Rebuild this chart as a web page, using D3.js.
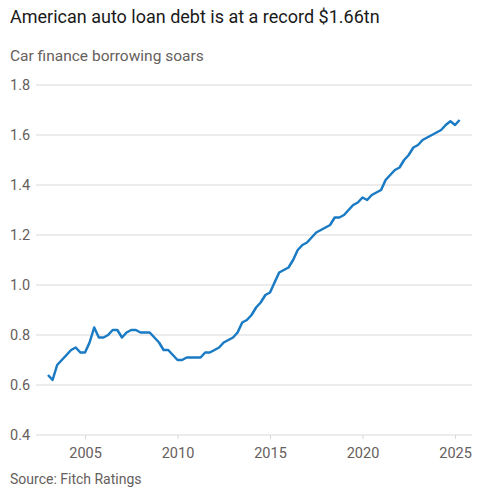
<!DOCTYPE html>
<html>
<head>
<meta charset="utf-8">
<script src="https://cdn.jsdelivr.net/npm/d3@7"></script>
<style>
  body { margin: 0; background: #fff; }
  svg text { font-family: Roboto, "Noto Sans", sans-serif; }
</style>
</head>
<body>
<div id="chart"></div>
<script>
// Quarterly US auto loan debt, $tn, 2003 Q1 to 2025 Q2
const firstYear = 2003;
const debt = [
  0.64, 0.62, 0.68, 0.70, 0.72, 0.74, 0.75, 0.73, 0.73, 0.77,
  0.83, 0.79, 0.79, 0.80, 0.82, 0.82, 0.79, 0.81, 0.82, 0.82,
  0.81, 0.81, 0.81, 0.79, 0.77, 0.74, 0.74, 0.72, 0.70, 0.70,
  0.71, 0.71, 0.71, 0.71, 0.73, 0.73, 0.74, 0.75, 0.77, 0.78,
  0.79, 0.81, 0.85, 0.86, 0.88, 0.91, 0.93, 0.96, 0.97, 1.01,
  1.05, 1.06, 1.07, 1.10, 1.14, 1.16, 1.17, 1.19, 1.21, 1.22,
  1.23, 1.24, 1.27, 1.27, 1.28, 1.30, 1.32, 1.33, 1.35, 1.34,
  1.36, 1.37, 1.38, 1.42, 1.44, 1.46, 1.47, 1.50, 1.52, 1.55,
  1.56, 1.58, 1.59, 1.60, 1.61, 1.62, 1.64, 1.655, 1.64, 1.66
];
const yTicks = [0.4, 0.6, 0.8, 1.0, 1.2, 1.4, 1.6, 1.8];
const xTicks = [2005, 2010, 2015, 2020, 2025];

const width = 480, height = 500;
const gridLeft = 36, gridRight = 472;

const data = debt.map((v, i) => ({
  date: d3.timeMonth.offset(new Date(firstYear, 0, 1), i * 3),
  value: v
}));

const svg = d3.select("#chart").append("svg")
  .attr("width", width)
  .attr("height", height);

const x = d3.scaleTime()
  .domain([new Date(2003, 0, 1), new Date(2025, 3, 1)])
  .range([48, 459.6]);

const y = d3.scaleLinear()
  .domain([0.4, 1.8])
  .range([435, 85]);

// Titles
svg.append("text")
  .attr("x", 10).attr("y", 23)
  .attr("font-size", 18)
  .attr("fill", "#1a1a1a")
  .text("American auto loan debt is at a record $1.66tn");

svg.append("text")
  .attr("x", 10).attr("y", 61)
  .attr("font-size", 15.5)
  .attr("fill", "#66605c")
  .text("Car finance borrowing soars");

// Gridlines + y labels
svg.append("g").selectAll("line")
  .data(yTicks)
  .join("line")
  .attr("x1", gridLeft).attr("x2", gridRight)
  .attr("y1", d => y(d)).attr("y2", d => y(d))
  .attr("stroke", "#d9d9d9")
  .attr("stroke-width", 1);

svg.append("g").selectAll("text")
  .data(yTicks)
  .join("text")
  .attr("x", 10)
  .attr("y", d => y(d))
  .attr("dy", "0.35em")
  .attr("font-size", 14.5)
  .attr("fill", "#66605c")
  .text(d => d.toFixed(1));

// x axis ticks
const xAxis = svg.append("g")
  .attr("transform", `translate(0,${y(0.4)})`)
  .call(d3.axisBottom(x)
    .tickValues(xTicks.map(t => new Date(t, 0, 1)))
    .tickFormat(d3.timeFormat("%Y"))
    .tickSize(4)
    .tickPadding(9));
xAxis.select(".domain").remove();
xAxis.selectAll(".tick line").attr("stroke", "#d9d9d9");
xAxis.selectAll(".tick text")
  .attr("font-size", 14.5)
  .attr("font-family", "Roboto, sans-serif")
  .attr("fill", "#66605c");

// Line
const line = d3.line()
  .x(d => x(d.date))
  .y(d => y(d.value));

svg.append("path")
  .datum(data)
  .attr("d", line)
  .attr("fill", "none")
  .attr("stroke", "#1a7bc4")
  .attr("stroke-width", 2.5)
  .attr("stroke-linejoin", "round");

// Source
svg.append("text")
  .attr("x", 10).attr("y", 484)
  .attr("font-size", 14)
  .attr("fill", "#66605c")
  .text("Source: Fitch Ratings");
</script>
</body>
</html>
